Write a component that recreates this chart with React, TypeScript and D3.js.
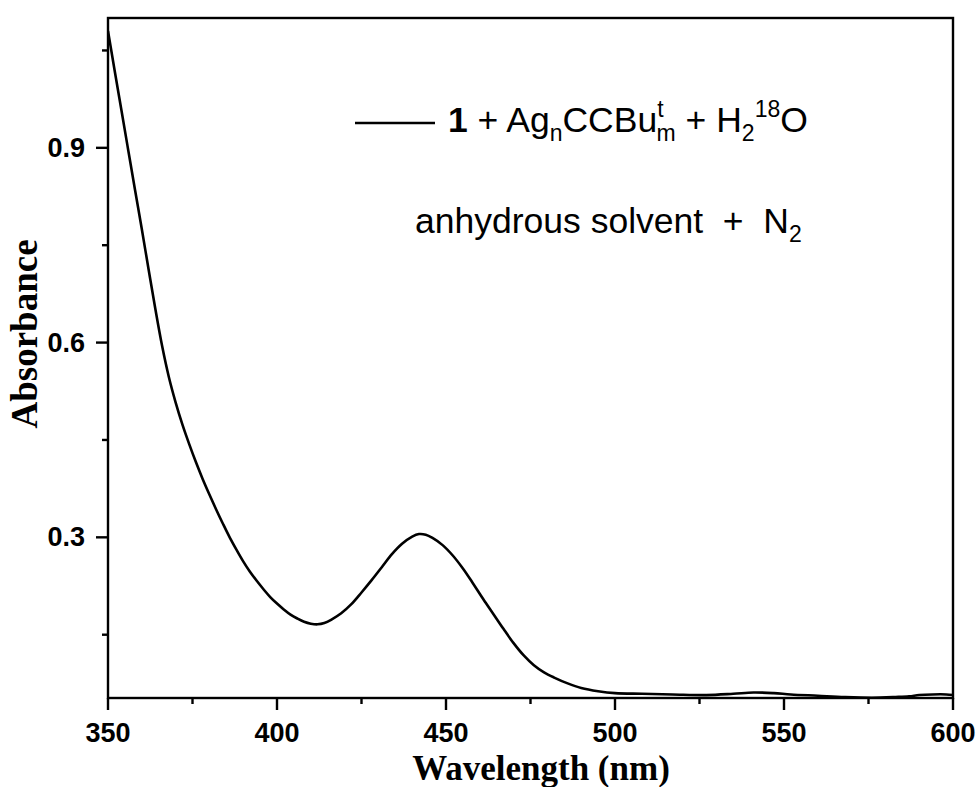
import React from "react";
import * as d3 from "d3";

// UV-vis absorption spectrum (wavelength in nm, absorbance)
const wavelengths = [
  350, 352, 354, 356, 358, 360, 362, 364, 366, 368, 370, 372, 374, 376, 378, 380, 382, 384, 386, 388,
  390, 392, 394, 396, 398, 400, 402, 404, 406, 408, 410, 412, 414, 416, 419, 422, 425, 428, 431, 434,
  437, 440, 442, 444, 446, 449, 452, 455, 458, 461, 464, 467, 470, 473, 476, 479, 482, 486, 490, 495,
  500, 508, 517, 527, 535, 541, 547, 552, 560, 568, 576, 583, 587, 590, 594, 598, 600,
];
const absorbance = [
  1.08, 1.018, 0.957, 0.896, 0.835, 0.775, 0.713, 0.652, 0.595, 0.547, 0.508, 0.474, 0.444, 0.416, 0.39, 0.366, 0.343, 0.321, 0.3, 0.281,
  0.263, 0.247, 0.233, 0.22, 0.208, 0.198, 0.189, 0.181, 0.175, 0.17, 0.167, 0.166, 0.168, 0.173, 0.183, 0.197, 0.215, 0.234, 0.254, 0.274,
  0.29, 0.301, 0.305, 0.304, 0.299, 0.288, 0.272, 0.252, 0.229, 0.205, 0.182, 0.159, 0.137, 0.118, 0.103, 0.092, 0.084, 0.075, 0.068, 0.063,
  0.06, 0.059, 0.058, 0.057, 0.059, 0.061, 0.06, 0.058, 0.056, 0.054, 0.053, 0.054, 0.055, 0.057, 0.058, 0.058, 0.057,
];

const xMajorTicks = [350, 400, 450, 500, 550, 600];
const xMinorTicks = [375, 425, 475, 525, 575];
const yMajorTicks = [0.3, 0.6, 0.9];
const yMinorTicks = [0.15, 0.45, 0.75, 1.05];

const W = 979;
const H = 787;
const left = 108;
const right = 953;
const top = 18;
const bottom = 698;

export default function App() {
  const x = d3.scaleLinear().domain([350, 600]).range([left, right]);
  const y = d3.scaleLinear().domain([0.0525, 1.1]).range([bottom, top]);

  const pts: [number, number][] = wavelengths.map((w, i) => [w, absorbance[i]]);
  const line = d3
    .line<[number, number]>()
    .x((d) => x(d[0]))
    .y((d) => y(d[1]))
    .curve(d3.curveCatmullRom.alpha(0.5));

  const sans = "Arial, 'Liberation Sans', Helvetica, sans-serif";
  const serif = "'Times New Roman', 'Liberation Serif', serif";

  return (
    <svg
      width={W}
      height={H}
      style={{ position: "absolute", left: 0, top: 0, background: "#fff" }}
    >
      <defs>
        <clipPath id="plot-clip">
          <rect x={left} y={top} width={right - left} height={bottom - top} />
        </clipPath>
      </defs>

      {/* spectrum */}
      <path
        d={line(pts) ?? ""}
        fill="none"
        stroke="#000"
        strokeWidth={2.6}
        clipPath="url(#plot-clip)"
      />

      {/* frame */}
      <rect
        x={left}
        y={top}
        width={right - left}
        height={bottom - top}
        fill="none"
        stroke="#000"
        strokeWidth={2.4}
      />

      {/* x ticks */}
      {xMajorTicks.map((t) => (
        <g key={"xM" + t}>
          <line x1={x(t)} x2={x(t)} y1={bottom} y2={bottom + 12} stroke="#000" strokeWidth={2.4} />
          <text
            x={x(t)}
            y={742}
            textAnchor="middle"
            fontFamily={sans}
            fontWeight="bold"
            fontSize={27}
          >
            {t}
          </text>
        </g>
      ))}
      {xMinorTicks.map((t) => (
        <line key={"xm" + t} x1={x(t)} x2={x(t)} y1={bottom} y2={bottom + 6} stroke="#000" strokeWidth={2.4} />
      ))}

      {/* y ticks */}
      {yMajorTicks.map((t) => (
        <g key={"yM" + t}>
          <line x1={left - 12} x2={left} y1={y(t)} y2={y(t)} stroke="#000" strokeWidth={2.4} />
          <text
            x={85}
            y={y(t) + 9}
            textAnchor="end"
            fontFamily={sans}
            fontWeight="bold"
            fontSize={27}
          >
            {t.toFixed(1)}
          </text>
        </g>
      ))}
      {yMinorTicks.map((t) => (
        <line key={"ym" + t} x1={left - 6} x2={left} y1={y(t)} y2={y(t)} stroke="#000" strokeWidth={2.4} />
      ))}

      {/* axis titles */}
      <text
        x={541}
        y={780}
        textAnchor="middle"
        fontFamily={serif}
        fontWeight="bold"
        fontSize={35}
      >
        Wavelength (nm)
      </text>
      <text
        transform={`translate(37, 334) rotate(-90)`}
        textAnchor="middle"
        fontFamily={serif}
        fontWeight="bold"
        fontSize={37}
      >
        Absorbance
      </text>

      {/* legend */}
      <line x1={355} x2={435} y1={123} y2={123} stroke="#000" strokeWidth={2.6} />
      <text x={448} y={132} fontFamily={sans} fontSize={35.5} style={{ whiteSpace: "pre" }}>
        <tspan fontWeight="bold">1</tspan>
        <tspan> + Ag</tspan>
        <tspan fontSize={23} dy={9}>n</tspan>
        <tspan dy={-9}>CCBu</tspan>
        <tspan fontSize={23} dy={-15}>t</tspan>
        <tspan fontSize={23} dx={-7} dy={24}>m</tspan>
        <tspan dy={-9}> + H</tspan>
        <tspan fontSize={23} dy={9}>2</tspan>
        <tspan fontSize={23} dy={-24}>18</tspan>
        <tspan dy={15}>O</tspan>
      </text>
      <text x={415} y={233} fontFamily={sans} fontSize={35.5} style={{ whiteSpace: "pre" }}>
        <tspan>anhydrous solvent  +  N</tspan>
        <tspan fontSize={23} dy={9}>2</tspan>
      </text>
    </svg>
  );
}
